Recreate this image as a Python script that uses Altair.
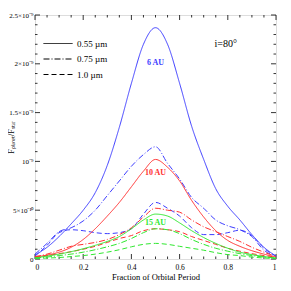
import altair as alt
import pandas as pd

# Fraction of orbital period
phase = [0.0, 0.05, 0.1, 0.15, 0.2, 0.25, 0.3, 0.35, 0.4, 0.45, 0.5,
         0.55, 0.6, 0.65, 0.7, 0.75, 0.8, 0.85, 0.9, 0.95, 1.0]

# F_planet/F_star in units of 1e-10
au6_055 = [0.4, 1.2, 2.3, 3.6, 5.0, 6.8, 9.6, 13.5, 18.0, 22.0, 23.7,
           22.0, 18.0, 13.6, 10.2, 7.2, 5.4, 4.0, 2.5, 1.2, 0.3]
au6_075 = [0.5, 1.6, 2.8, 3.2, 3.9, 5.0, 6.5, 8.0, 9.5, 10.7, 11.5,
           9.8, 8.2, 6.3, 5.2, 4.0, 3.4, 3.0, 2.3, 0.9, 0.3]
au6_100 = [0.3, 1.4, 2.7, 3.0, 2.9, 2.7, 2.6, 2.7, 3.1, 4.6, 5.8,
           5.2, 4.4, 3.2, 2.5, 2.5, 2.7, 2.95, 2.4, 1.1, 0.3]
au10_055 = [0.2, 0.4, 0.7, 1.2, 2.0, 3.1, 4.4, 5.8, 7.4, 9.0, 10.2,
            9.4, 8.0, 6.0, 4.3, 2.9, 1.9, 1.3, 0.85, 0.5, 0.2]
au10_075 = [0.25, 0.5, 0.9, 1.3, 1.5, 1.7, 2.0, 2.5, 3.2, 4.3, 5.2,
            5.0, 4.8, 4.0, 3.3, 2.8, 2.3, 1.8, 1.2, 0.7, 0.25]
au10_100 = [0.2, 0.35, 0.55, 0.75, 1.0, 1.3, 1.7, 2.1, 2.4, 2.9, 3.1,
            3.0, 2.8, 2.3, 1.9, 1.5, 1.1, 0.8, 0.55, 0.35, 0.2]
au15_055 = [0.1, 0.3, 0.5, 0.75, 1.05, 1.4, 1.8, 2.3, 3.1, 4.0, 4.6,
            4.4, 3.7, 2.9, 2.2, 1.6, 1.1, 0.7, 0.45, 0.25, 0.1]
au15_075 = [0.1, 0.2, 0.35, 0.5, 0.7, 0.95, 1.25, 1.6, 2.1, 2.7, 3.1,
            3.0, 2.6, 2.0, 1.5, 1.1, 0.8, 0.55, 0.35, 0.2, 0.1]
au15_100 = [0.05, 0.1, 0.15, 0.25, 0.35, 0.5, 0.7, 0.95, 1.25, 1.5, 1.6,
            1.5, 1.3, 1.1, 0.9, 0.65, 0.45, 0.35, 0.2, 0.1, 0.05]

distances = ["6 AU", "10 AU", "15 AU"]
dist_colors = ["#3d3dff", "#ff3030", "#2fe82f"]
wavelengths = ["0.55 \u00b5m", "0.75 \u00b5m", "1.0 \u00b5m"]
dashes = [[1, 0], [6, 2, 1, 2], [5, 3]]

series = {
    ("6 AU", wavelengths[0]): au6_055, ("6 AU", wavelengths[1]): au6_075, ("6 AU", wavelengths[2]): au6_100,
    ("10 AU", wavelengths[0]): au10_055, ("10 AU", wavelengths[1]): au10_075, ("10 AU", wavelengths[2]): au10_100,
    ("15 AU", wavelengths[0]): au15_055, ("15 AU", wavelengths[1]): au15_075, ("15 AU", wavelengths[2]): au15_100,
}
rows = []
for (d, w), vals in series.items():
    for p, v in zip(phase, vals):
        rows.append({"phase": p, "flux": v, "dist": d, "wl": w})
df = pd.DataFrame(rows)

# annotation labels
ann_dist = ["6 AU", "10 AU", "15 AU"]
ann_x = [0.5, 0.5, 0.5]
ann_y = [20.1, 8.8, 3.7]
ann = pd.DataFrame({"dist": ann_dist, "phase": ann_x, "flux": ann_y})

incl_text = ["i=80\u00b0"]
incl_x = [0.745]
incl_y = [22.0]
incl = pd.DataFrame({"t": incl_text, "phase": incl_x, "flux": incl_y})

x_major = [0.0, 0.2, 0.4, 0.6, 0.8, 1.0]
x_minor = [0.05, 0.1, 0.15, 0.25, 0.3, 0.35, 0.45, 0.5, 0.55, 0.65, 0.7, 0.75, 0.85, 0.9, 0.95]
y_major = [0, 5, 10, 15, 20, 25]
y_minor = [1, 2, 3, 4, 6, 7, 8, 9, 11, 12, 13, 14, 16, 17, 18, 19, 21, 22, 23, 24]

W, H = 241, 244
FONT = "Liberation Serif"

xscale = alt.Scale(domain=[0, 1], nice=False, zero=False)
yscale = alt.Scale(domain=[0, 25], nice=False)
xaxis = alt.Axis(values=x_major, ticks=False, domain=False, grid=False,
                 labelExpr="datum.value == 0 ? '0' : datum.value == 1 ? '1' : format(datum.value, '.1f')",
                 labelFont=FONT, labelFontSize=7.5, labelPadding=4, labelColor="black",
                 title="Fraction of Orbital Period", titleFont=FONT, titleFontSize=8.5,
                 titleFontWeight="normal", titlePadding=2, titleColor="black")
yaxis = alt.Axis(values=y_major, ticks=False, domain=False, grid=False,
                 labelExpr="datum.value == 0 ? '0' : datum.value == 25 ? '2.5\u00d710\u207b\u2079' : datum.value == 20 ? '2\u00d710\u207b\u2079' : datum.value == 15 ? '1.5\u00d710\u207b\u2079' : datum.value == 10 ? '10\u207b\u2079' : '5\u00d710\u207b\u00b9\u2070'",
                 labelFont=FONT, labelFontSize=7, labelPadding=2, labelColor="black",
                 title="F\u209a\u2097\u2090\u2099\u2091\u209c/F\u209b\u209c\u2090\u1d63", titleFont=FONT,
                 titleFontSize=8, titleFontWeight="normal", titleX=-20, titleY=H / 2,
                 titleColor="black")

X = alt.X("phase:Q", scale=xscale, axis=xaxis)
Y = alt.Y("flux:Q", scale=yscale, axis=yaxis)
color = alt.Color("dist:N", scale=alt.Scale(domain=distances, range=dist_colors), legend=None)

lines = alt.Chart(df).mark_line(strokeWidth=1, interpolate="monotone", clip=True).encode(
    x=X, y=Y, color=color,
    strokeDash=alt.StrokeDash("wl:N", scale=alt.Scale(domain=wavelengths, range=dashes),
                              legend=alt.Legend(orient="none", legendX=17.5, legendY=23, title=None,
                                                padding=0, symbolType="M-2.9,0H2.9", symbolSize=100,
                                                symbolStrokeColor="black", symbolStrokeWidth=1,
                                                labelOffset=13.5, labelFont=FONT, labelFontSize=9,
                                                labelColor="black", rowPadding=4.5)),
    detail="wl:N",
)

labels = alt.Chart(ann).mark_text(font=FONT, fontSize=8, fontWeight="bold").encode(
    x=X, y=Y, color=color, text="dist:N")

incl_lbl = alt.Chart(incl).mark_text(font=FONT, fontSize=10, align="left", color="black").encode(
    x=X, y=Y, text="t:N")


def xticks(vals, length):
    d = pd.DataFrame({"phase": vals})
    b = alt.Chart(d).mark_rule(color="black", strokeWidth=0.8)
    return [b.encode(x=X, y=alt.value(H), y2=alt.value(H - length)),
            b.encode(x=X, y=alt.value(0), y2=alt.value(length))]


def yticks(vals, length):
    d = pd.DataFrame({"flux": vals})
    b = alt.Chart(d).mark_rule(color="black", strokeWidth=0.8)
    return [b.encode(y=Y, x=alt.value(0), x2=alt.value(length)),
            b.encode(y=Y, x=alt.value(W), x2=alt.value(W - length))]


tick_layers = xticks(x_major, 5) + xticks(x_minor, 2.5) + yticks(y_major, 5) + yticks(y_minor, 2.5)

chart = alt.layer(*tick_layers, lines, labels, incl_lbl).properties(
    width=W, height=H, autosize=alt.AutoSizeParams(type="none"),
    padding={"left": 27, "top": 7, "right": 7, "bottom": 25},
).configure_view(stroke="black", strokeWidth=1).configure(background="white")

chart.save("out.html", embed_options={"renderer": "svg", "actions": False})
